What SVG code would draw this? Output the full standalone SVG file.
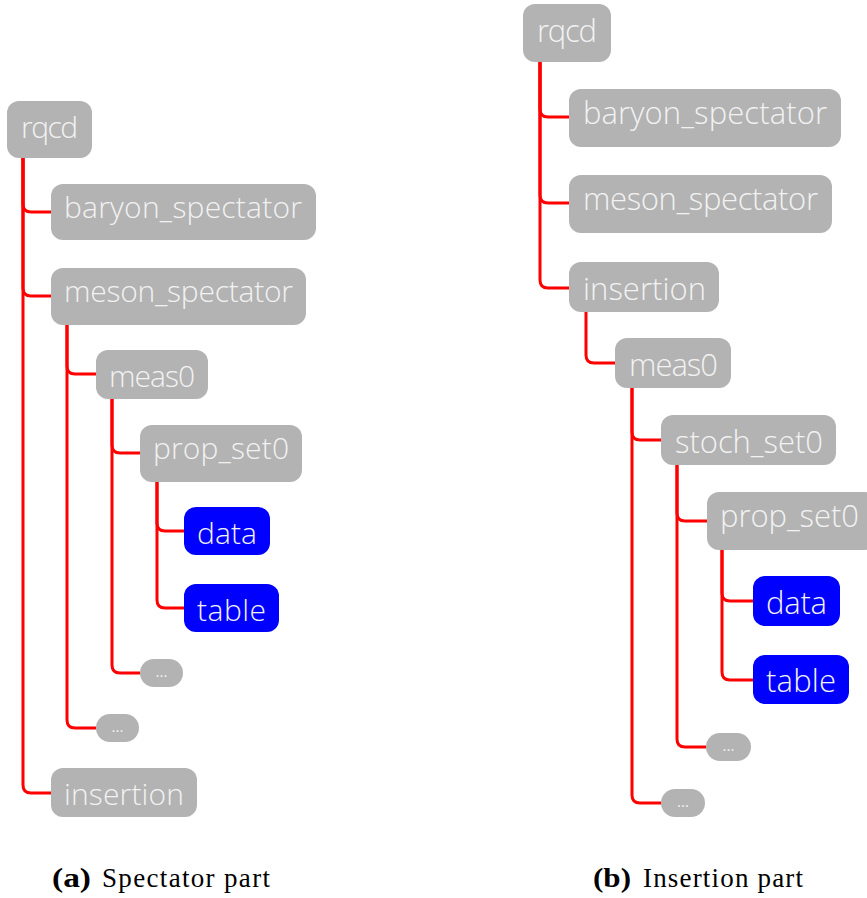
<svg xmlns="http://www.w3.org/2000/svg" width="867" height="898" viewBox="0 0 867 898">
<style>
.n{fill:#b3b3b3}
.b{fill:#0000ff}
.t{font-family:"Open Sans","DejaVu Sans",sans-serif;font-weight:300;font-size:30px;fill:#f2f2f2}
.tr{font-size:31px}
.d{font-family:"Open Sans","DejaVu Sans",sans-serif;font-size:15px;fill:#f2f2f2;text-anchor:middle}
.c{fill:none;stroke:#ff0000;stroke-width:3}
.cap{font-family:"Liberation Serif","Times New Roman",serif;font-size:27px;fill:#000}
</style>
<rect width="867" height="898" fill="#ffffff"/>
<g id="connectors">
<path class="c" d="M23 158 V204 Q23 212 31 212 H51"/>
<path class="c" d="M23 158 V288 Q23 296 31 296 H51"/>
<path class="c" d="M23 158 V785 Q23 793 31 793 H51"/>
<path class="c" d="M67 325 V366 Q67 374 75 374 H96"/>
<path class="c" d="M67 325 V720 Q67 728 75 728 H96"/>
<path class="c" d="M112 399 V445 Q112 453 120 453 H140"/>
<path class="c" d="M112 399 V665 Q112 673 120 673 H140"/>
<path class="c" d="M157 482 V523 Q157 531 165 531 H184"/>
<path class="c" d="M157 482 V600 Q157 608 165 608 H184"/>
<path class="c" d="M540 62 V109 Q540 117 548 117 H569"/>
<path class="c" d="M540 62 V195 Q540 203 548 203 H569"/>
<path class="c" d="M540 62 V280 Q540 288 548 288 H569"/>
<path class="c" d="M586 312 V355 Q586 363 594 363 H615"/>
<path class="c" d="M632 388 V432 Q632 440 640 440 H661"/>
<path class="c" d="M632 388 V795 Q632 803 640 803 H661"/>
<path class="c" d="M677 465 V513 Q677 521 685 521 H707"/>
<path class="c" d="M677 465 V739 Q677 747 685 747 H706"/>
<path class="c" d="M722 550 V593 Q722 601 730 601 H753"/>
<path class="c" d="M722 550 V672 Q722 680 730 680 H753"/>
</g>
<g id="L-rqcd"><rect class="n" x="7" y="101" width="85" height="57" rx="12"/><text class="t" x="21" y="138" textLength="57">rqcd</text></g>
<g id="L-baryon"><rect class="n" x="51" y="184" width="265" height="56" rx="12"/><text class="t" x="64" y="218" textLength="238">baryon_spectator</text></g>
<g id="L-meson"><rect class="n" x="51" y="268" width="255" height="57" rx="12"/><text class="t" x="64" y="302" textLength="229">meson_spectator</text></g>
<g id="L-meas0"><rect class="n" x="96" y="350" width="112" height="49" rx="12"/><text class="t" x="109" y="387" textLength="86">meas0</text></g>
<g id="L-prop"><rect class="n" x="140" y="425" width="162" height="57" rx="12"/><text class="t" x="153" y="459" textLength="136">prop_set0</text></g>
<g id="L-data"><rect class="b" x="184" y="507" width="86" height="48" rx="12"/><text class="t" x="197" y="544" textLength="60">data</text></g>
<g id="L-table"><rect class="b" x="184" y="584" width="95" height="48" rx="12"/><text class="t" x="197" y="621" textLength="69">table</text></g>
<g id="L-dots1"><rect class="n" x="140" y="659" width="43" height="28" rx="14"/><text class="d" x="161.5" y="677">...</text></g>
<g id="L-dots2"><rect class="n" x="96" y="714" width="43" height="28" rx="14"/><text class="d" x="117.5" y="732">...</text></g>
<g id="L-insertion"><rect class="n" x="51" y="768" width="146" height="49" rx="12"/><text class="t" x="64" y="805" textLength="120">insertion</text></g>
<g id="R-rqcd"><rect class="n" x="523" y="4" width="88" height="58" rx="12"/><text class="t tr" x="537" y="42" textLength="60">rqcd</text></g>
<g id="R-baryon"><rect class="n" x="569" y="89" width="272" height="58" rx="12"/><text class="t tr" x="583" y="124" textLength="244">baryon_spectator</text></g>
<g id="R-meson"><rect class="n" x="569" y="175" width="263" height="58" rx="12"/><text class="t tr" x="583" y="210" textLength="235">meson_spectator</text></g>
<g id="R-insertion"><rect class="n" x="569" y="262" width="150" height="50" rx="12"/><text class="t tr" x="583" y="300" textLength="123">insertion</text></g>
<g id="R-meas0"><rect class="n" x="615" y="338" width="116" height="50" rx="12"/><text class="t tr" x="629" y="376" textLength="89">meas0</text></g>
<g id="R-stoch"><rect class="n" x="661" y="415" width="175" height="50" rx="12"/><text class="t tr" x="675" y="453" textLength="148">stoch_set0</text></g>
<g id="R-prop"><rect class="n" x="707" y="492" width="170" height="58" rx="12"/><text class="t tr" x="720" y="527" textLength="139">prop_set0</text></g>
<g id="R-data"><rect class="b" x="753" y="576" width="87" height="50" rx="12"/><text class="t tr" x="766" y="614" textLength="61">data</text></g>
<g id="R-table"><rect class="b" x="753" y="655" width="96" height="49" rx="12"/><text class="t tr" x="766" y="692" textLength="70">table</text></g>
<g id="R-dots1"><rect class="n" x="706" y="733" width="45" height="28" rx="14"/><text class="d" x="728.5" y="751">...</text></g>
<g id="R-dots2"><rect class="n" x="661" y="789" width="44" height="28" rx="14"/><text class="d" x="683" y="807">...</text></g>
<text class="cap" x="52" y="887" font-weight="bold" textLength="39" lengthAdjust="spacingAndGlyphs">(a)</text>
<text class="cap" x="102" y="887" textLength="168">Spectator part</text>
<text class="cap" x="593" y="887" font-weight="bold" textLength="38" lengthAdjust="spacingAndGlyphs">(b)</text>
<text class="cap" x="643" y="887" textLength="160">Insertion part</text>
</svg>
